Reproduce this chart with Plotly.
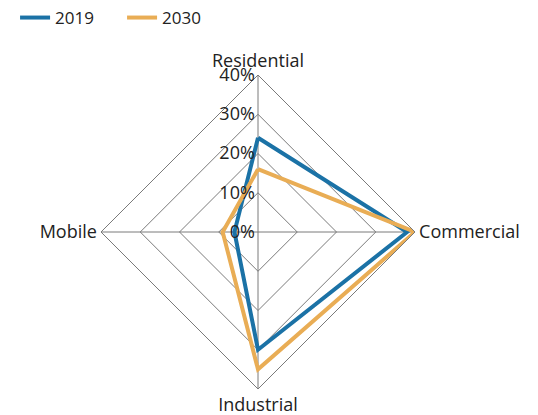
import plotly.graph_objects as go

categories = ["Residential", "Commercial", "Industrial", "Mobile"]
share_2019 = [24, 38, 30, 6]
share_2030 = [16, 40, 35, 9]
radial_ticks = [0, 10, 20, 30, 40]

series = [
    ("2019", share_2019, "#1b72a6"),
    ("2030", share_2030, "#e9ad55"),
]

fig = go.Figure()
for name, vals, color in series:
    fig.add_trace(go.Scatterpolar(
        r=vals + vals[:1],
        theta=categories + categories[:1],
        mode="lines",
        name=name,
        line=dict(color=color, width=4),
    ))

grid_color = "#7a7a7a"
fig.update_layout(
    width=538, height=415,
    margin=dict(l=101, r=123, t=75, b=26),
    paper_bgcolor="white",
    font=dict(family="Open Sans, Noto Sans, sans-serif", size=18, color="#222222"),
    showlegend=True,
    legend=dict(orientation="h", x=0.028, y=1.0, xref="container", yref="container",
                xanchor="left", yanchor="top", font=dict(size=17),
                entrywidth=62, entrywidthmode="pixels", tracegroupgap=0),
    polar=dict(
        bgcolor="white",
        gridshape="linear",
        angularaxis=dict(
            direction="clockwise", rotation=90,
            categoryorder="array", categoryarray=categories,
            showline=True, linecolor=grid_color, linewidth=1,
            gridcolor=grid_color, gridwidth=1,
            ticks="", tickfont=dict(size=18),
        ),
        radialaxis=dict(
            range=[0, 40], tickvals=radial_ticks,
            ticktext=[f"{v}%" for v in radial_ticks],
            angle=90, tickangle=90, side="counterclockwise",
            showline=False, ticks="",
            gridcolor=grid_color, gridwidth=1,
            tickfont=dict(size=18),
        ),
    ),
)

fig.write_html("out.html")
